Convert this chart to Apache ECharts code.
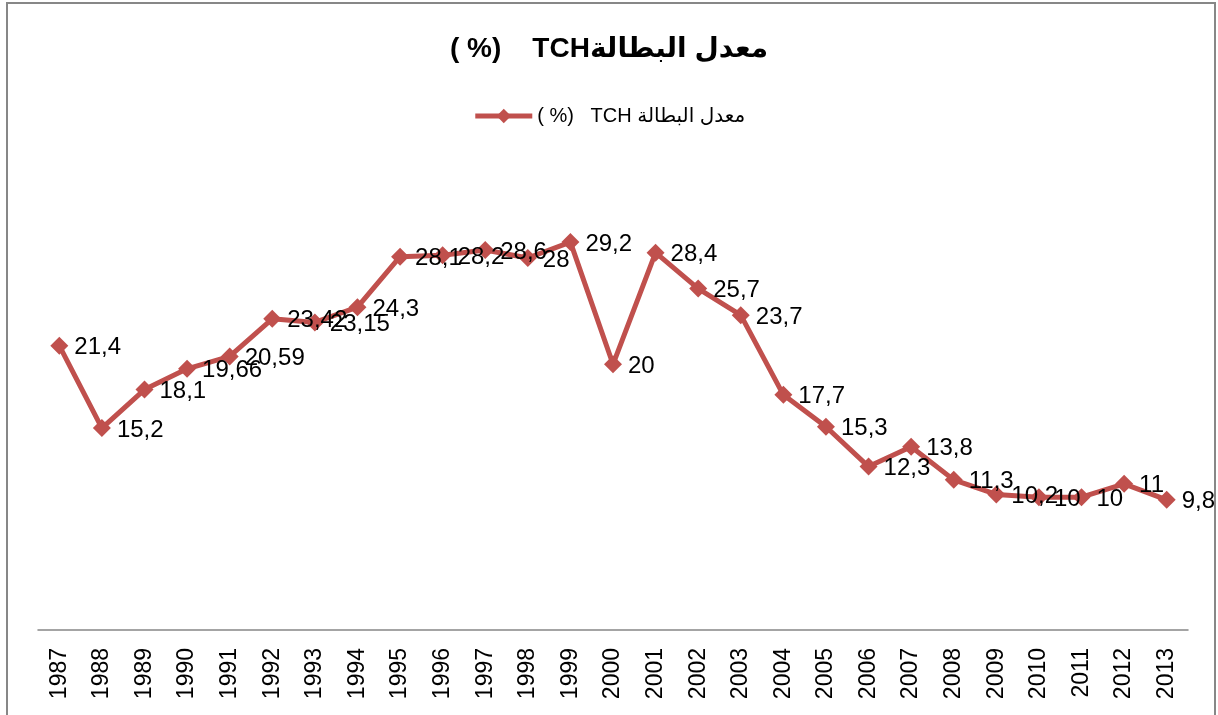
<!DOCTYPE html>
<html><head><meta charset="utf-8">
<script src="https://cdn.jsdelivr.net/npm/echarts@6/dist/echarts.min.js"></script>
<style>html,body{margin:0;padding:0;background:#fff}#c{width:1218px;height:715px}</style>
</head><body><div id="c"></div>
<script>
const years = ['1987','1988','1989','1990','1991','1992','1993','1994','1995','1996','1997','1998','1999','2000','2001','2002','2003','2004','2005','2006','2007','2008','2009','2010','2011','2012','2013'];
const rates = [21.4,15.2,18.1,19.66,20.59,23.42,23.15,24.3,28.1,28.2,28.6,28,29.2,20,28.4,25.7,23.7,17.7,15.3,12.3,13.8,11.3,10.2,10,10,11,9.8];
const seriesName = '( %)   TCH معدل البطالة';
const titleText = '( %)    TCHمعدل البطالة';

const chart = echarts.init(document.getElementById('c'));
chart.setOption({
  animation: false,
  title: { text: titleText, left: 'center', top: 30,
    textStyle: { fontFamily: 'Liberation Sans, DejaVu Sans', fontSize: 28, fontWeight: 'bold', color: '#000' } },
  legend: { data: [seriesName], left: 'center', top: 101, itemWidth: 57, itemHeight: 18,
    lineStyle: { width: 5 },
    textStyle: { fontFamily: 'Liberation Sans, DejaVu Sans', fontSize: 20, color: '#000' } },
  graphic: [{ type: 'rect', shape: { x: 7, y: 3, width: 1208, height: 720 }, style: { fill: 'none', stroke: '#878787', lineWidth: 2 }, silent: true }],
  grid: { left: 38, right: 30, top: 165, bottom: 85 },
  xAxis: { type: 'category', data: years, boundaryGap: true,
    axisLine: { lineStyle: { color: '#868686', width: 1.5 } }, axisTick: { show: false },
    axisLabel: { rotate: 90, margin: 18, fontFamily: 'Liberation Sans', fontSize: 23, color: '#000', interval: 0 } },
  yAxis: { type: 'value', min: 0, max: 35, show: false, splitLine: { show: false } },
  series: [{ name: seriesName, type: 'line', data: rates,
    lineStyle: { color: '#C0504D', width: 5 }, itemStyle: { color: '#C0504D' },
    symbol: 'diamond', symbolSize: 18,
    label: { show: true, position: 'right', distance: 6, offset: [0, 2], fontFamily: 'Liberation Sans', fontSize: 24, color: '#000',
      formatter: p => String(p.value).replace('.', ',') } }]
});
</script></body></html>
